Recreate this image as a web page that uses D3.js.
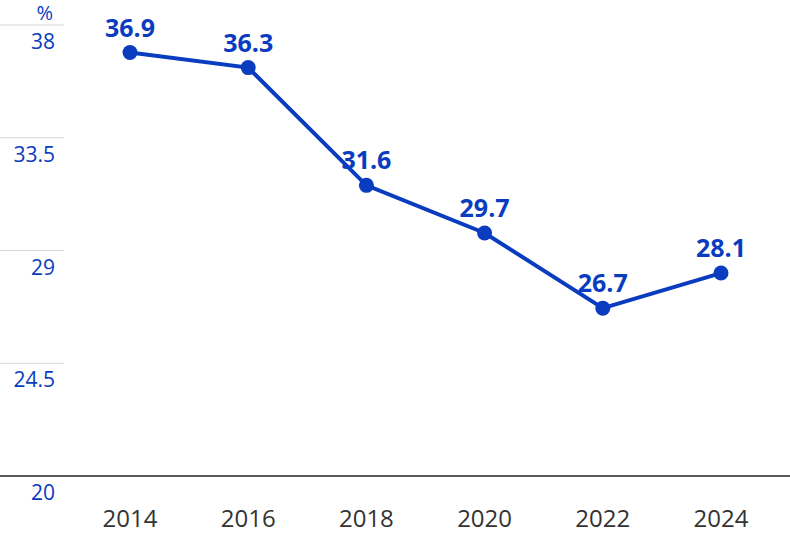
<html>
<head>
<script src="https://d3js.org/d3.v7.min.js"></script>
<style>
body { margin: 0; font-family: 'Open Sans', 'Noto Sans', sans-serif; background: #fff; }
</style>
</head>
<body>
<div id="chart"></div>
<script>
  var years = ["2014", "2016", "2018", "2020", "2022", "2024"];
  var values = [36.9, 36.3, 31.6, 29.7, 26.7, 28.1];
  var yTicks = [20, 24.5, 29, 33.5, 38];
  var yTickLabels = ["20", "24.5", "29", "33.5", "38"];

  var width = 790, height = 534;
  var blue = "#0a3cc0";

  var svg = d3.select("#chart").append("svg")
    .attr("width", width).attr("height", height);

  var x = d3.scalePoint().domain(years).range([130, 721]);
  var y = d3.scaleLinear().domain([20, 38]).range([476, 25]);

  // grid stubs and y labels
  yTicks.forEach(function(t, i) {
    if (t !== 20) {
      svg.append("line").attr("x1", 0).attr("x2", 64)
        .attr("y1", y(t)).attr("y2", y(t))
        .attr("stroke", "#d6d6d6").attr("stroke-width", 1);
    }
    svg.append("text").attr("x", 55).attr("y", y(t) + 24)
      .attr("text-anchor", "end").attr("fill", blue)
      .style("font-size", "21px").text(yTickLabels[i]);
  });

  svg.append("text").attr("x", 53).attr("y", 20)
    .attr("text-anchor", "end").attr("fill", blue)
    .style("font-size", "20px").text("%");

  // baseline
  svg.append("line").attr("x1", 0).attr("x2", width)
    .attr("y1", y(20)).attr("y2", y(20))
    .attr("stroke", "#222").attr("stroke-width", 1.5);

  // x labels
  svg.selectAll(".xl").data(years).enter().append("text")
    .attr("x", function(d) { return x(d); }).attr("y", 527)
    .attr("text-anchor", "middle").attr("fill", "#333")
    .style("font-size", "24px").text(function(d) { return d; });

  var pts = years.map(function(d, i) { return [x(d), y(values[i])]; });

  svg.append("path").attr("d", d3.line()(pts))
    .attr("fill", "none").attr("stroke", blue).attr("stroke-width", 4);

  svg.selectAll(".dot").data(pts).enter().append("circle")
    .attr("cx", function(d) { return d[0]; }).attr("cy", function(d) { return d[1]; })
    .attr("r", 7.5).attr("fill", blue);

  svg.selectAll(".lbl").data(values).enter().append("text")
    .attr("x", function(d, i) { return pts[i][0]; })
    .attr("y", function(d, i) { return pts[i][1] - 16; })
    .attr("text-anchor", "middle").attr("fill", blue)
    .style("font-size", "25px").style("font-weight", "bold")
    .text(function(d) { return d.toFixed(1); });
</script>
</body>
</html>
